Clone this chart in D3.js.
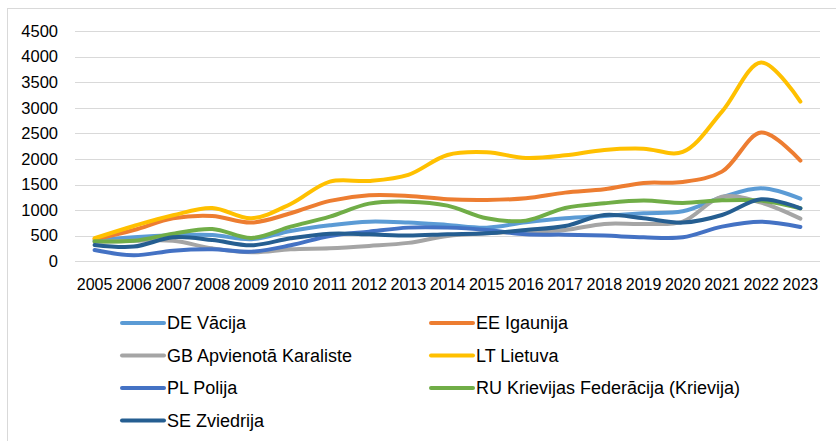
<!DOCTYPE html>
<html>
<head>
<meta charset="utf-8">
<script src="https://cdn.jsdelivr.net/npm/d3@7"></script>
<style>
  body { margin: 0; background: #fff; }
</style>
</head>
<body>
<script>
var w = 836;
var h = 441;

// data
var years = [2005, 2006, 2007, 2008, 2009, 2010, 2011, 2012, 2013, 2014, 2015, 2016, 2017, 2018, 2019, 2020, 2021, 2022, 2023];
var yTicks = [0, 500, 1000, 1500, 2000, 2500, 3000, 3500, 4000, 4500];

var names = ["DE Vācija", "EE Igaunija", "GB Apvienotā Karaliste", "LT Lietuva", "PL Polija", "RU Krievijas Federācija (Krievija)", "SE Zviedrija"];
var colors = ["#5B9BD5", "#ED7D31", "#A5A5A5", "#FFC000", "#4472C4", "#70AD47", "#255E91"];

var de = [400, 470, 510, 515, 430, 593, 704, 775, 756, 710, 658, 762, 840, 886, 938, 977, 1251, 1427, 1225];
var ee = [430, 612, 840, 886, 756, 938, 1180, 1290, 1277, 1212, 1199, 1231, 1342, 1407, 1531, 1550, 1752, 2515, 1967];
var gb = [380, 400, 400, 254, 176, 235, 254, 300, 360, 495, 547, 580, 612, 730, 730, 775, 1264, 1147, 834];
var lt = [450, 690, 900, 1040, 840, 1120, 1557, 1570, 1690, 2078, 2130, 2020, 2070, 2176, 2200, 2137, 2925, 3883, 3120];
var pl = [221, 117, 208, 235, 189, 313, 495, 580, 658, 658, 612, 528, 521, 502, 469, 469, 677, 775, 671];
var ru = [390, 400, 540, 632, 456, 677, 873, 1127, 1166, 1088, 840, 795, 1042, 1134, 1186, 1140, 1192, 1186, 1036];
var se = [319, 287, 469, 417, 313, 450, 540, 528, 502, 528, 547, 612, 690, 905, 840, 756, 905, 1212, 1036];

var series = [de, ee, gb, lt, pl, ru, se];

var font = "'Liberation Sans', Arial, sans-serif";

var svg = d3.select("body").append("svg")
  .attr("width", w).attr("height", h)
  .attr("font-family", font);

// chart frame
svg.append("rect")
  .attr("x", 7.5).attr("y", 8.5)
  .attr("width", 845).attr("height", 450)
  .style("fill", "none")
  .style("stroke", "#d9d9d9")
  .style("stroke-width", 1);

var x = d3.scaleBand().domain(years).range([75, 820]);
var y = d3.scaleLinear().domain([0, 4500]).range([261.3, 31]);

// gridlines
svg.append("g")
  .selectAll("line")
  .data(yTicks)
  .enter()
  .append("line")
  .attr("x1", 75).attr("x2", 820)
  .attr("y1", function (d) { return Math.round(y(d)) + 0.5; })
  .attr("y2", function (d) { return Math.round(y(d)) + 0.5; })
  .style("stroke", "#d9d9d9")
  .style("stroke-width", 1);

// y labels
svg.append("g")
  .selectAll("text")
  .data(yTicks)
  .enter()
  .append("text")
  .attr("x", 58)
  .attr("y", function (d) { return y(d); })
  .attr("dy", "0.35em")
  .attr("text-anchor", "end")
  .style("font-size", "16.5px")
  .style("fill", "#000")
  .text(function (d) { return d; });

// x labels
svg.append("g")
  .selectAll("text")
  .data(years)
  .enter()
  .append("text")
  .attr("x", function (d) { return x(d) + x.bandwidth() / 2; })
  .attr("y", 290)
  .attr("text-anchor", "middle")
  .style("font-size", "16px")
  .style("fill", "#000")
  .text(function (d) { return d; });

var line = d3.line()
  .x(function (d, i) { return x(years[i]) + x.bandwidth() / 2; })
  .y(function (d) { return y(d); })
  .curve(d3.curveCatmullRom.alpha(0.5));

svg.append("g")
  .selectAll("path")
  .data(series)
  .enter()
  .append("path")
  .attr("d", line)
  .style("fill", "none")
  .style("stroke", function (d, i) { return colors[i]; })
  .style("stroke-width", 4)
  .style("stroke-linecap", "round")
  .style("stroke-linejoin", "round");

// legend, two columns
var legend = svg.append("g")
  .selectAll("g")
  .data(names)
  .enter()
  .append("g")
  .attr("transform", function (d, i) {
    var col = i % 2, row = Math.floor(i / 2);
    return "translate(" + (col ? 431 : 122) + "," + (323 + row * 32.5) + ")";
  });

legend.append("line")
  .attr("x1", 0).attr("x2", 42)
  .style("stroke", function (d, i) { return colors[i]; })
  .style("stroke-width", 4)
  .style("stroke-linecap", "round");

legend.append("text")
  .attr("x", 45)
  .attr("dy", "0.35em")
  .style("font-size", "18px")
  .style("fill", "#000")
  .text(function (d) { return d; });
</script>
</body>
</html>
